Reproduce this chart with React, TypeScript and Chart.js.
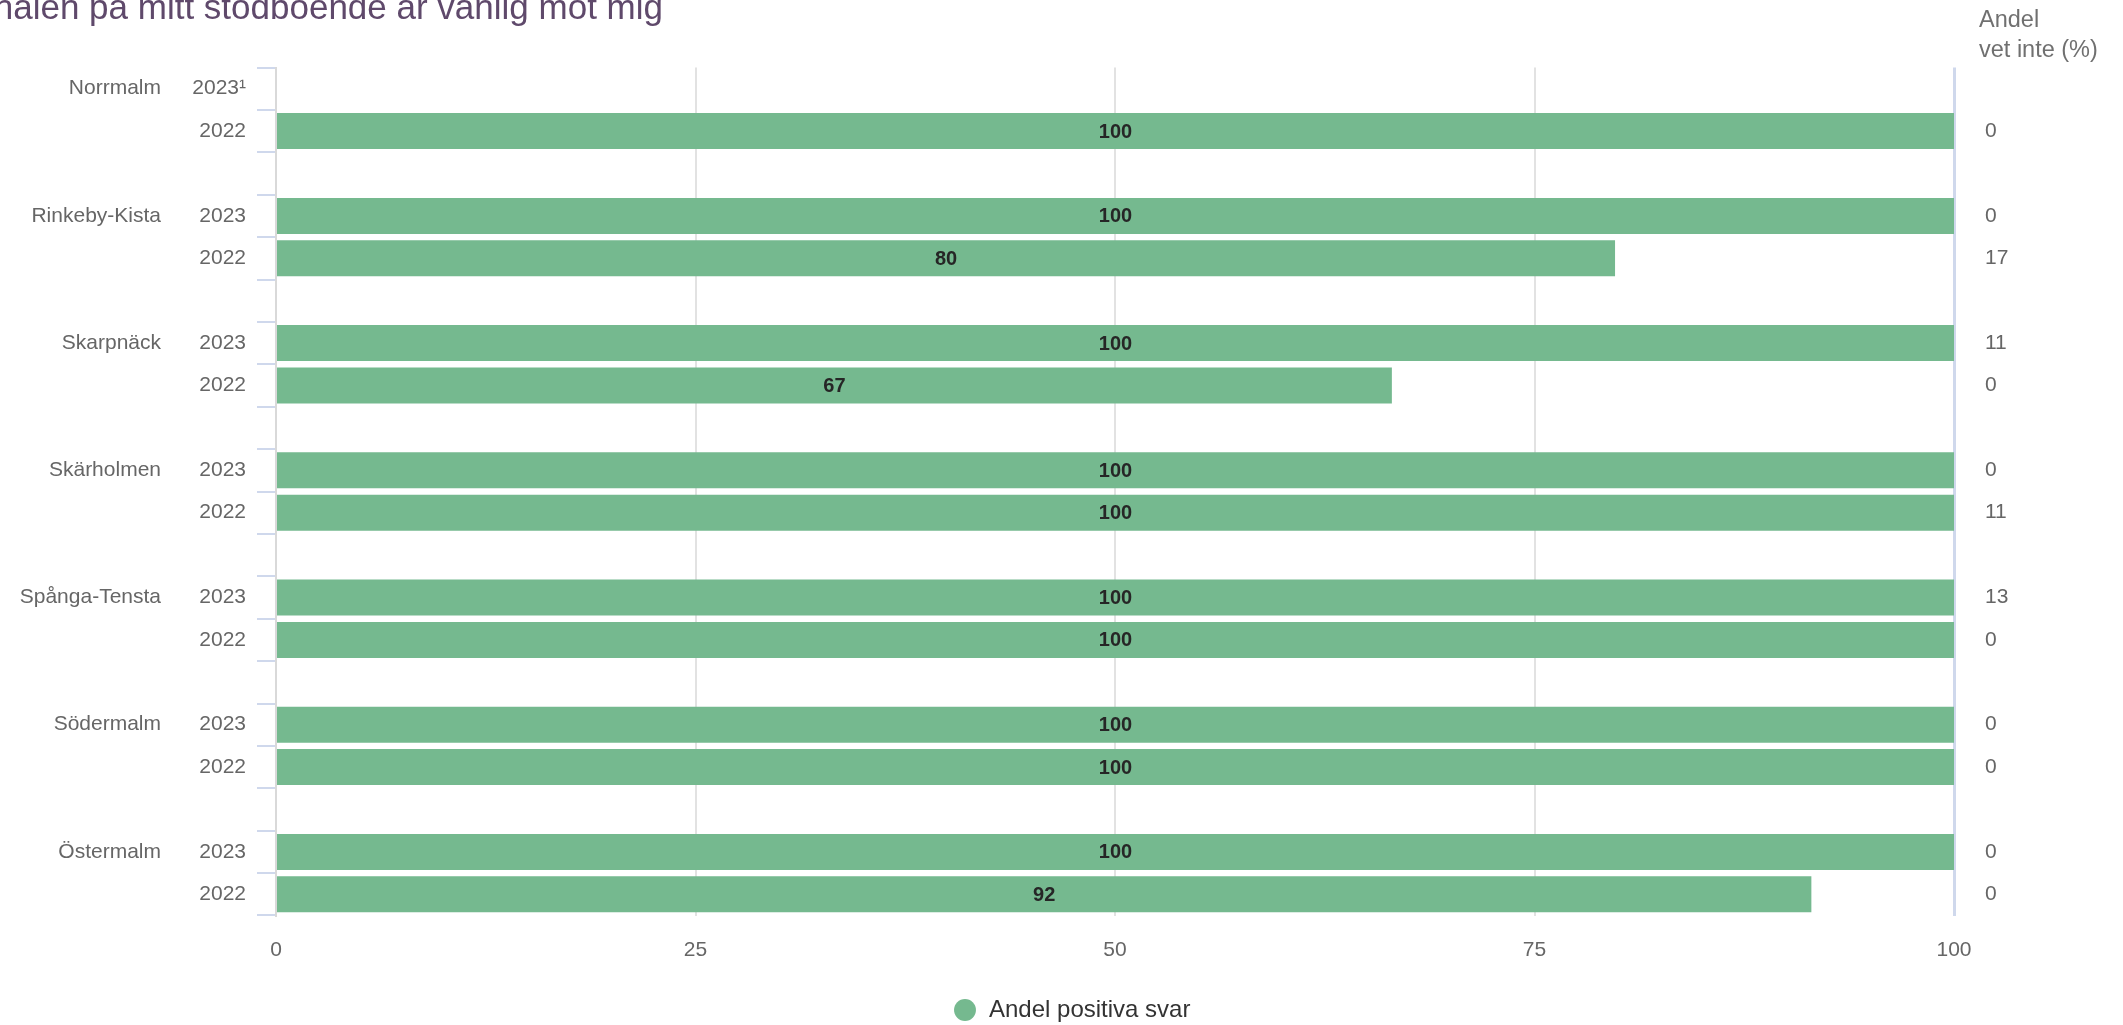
import React, { useEffect, useRef } from 'react';
import { Chart, registerables } from 'chart.js';

Chart.register(...registerables);

// ---- data ----
const districts = ['Norrmalm', 'Rinkeby-Kista', 'Skarpnäck', 'Skärholmen', 'Spånga-Tensta', 'Södermalm', 'Östermalm'];
const yearLabels2023 = ['2023¹', '2023', '2023', '2023', '2023', '2023', '2023'];
const yearLabels2022 = ['2022', '2022', '2022', '2022', '2022', '2022', '2022'];
const positive2023: (number | null)[] = [null, 100, 100, 100, 100, 100, 100];
const positive2022: (number | null)[] = [100, 79.8, 66.5, 100, 100, 100, 91.5];
const vetInte2023: (number | null)[] = [null, 0, 11, 0, 13, 0, 0];
const vetInte2022: (number | null)[] = [0, 17, 0, 11, 0, 0, 0];
const xTickValues = [0, 25, 50, 75, 100];
const titleText = 'Personalen på mitt stödboende är vänlig mot mig';
const legendLabel = 'Andel positiva svar';
const rightHeader = ['Andel', 'vet inte (%)'];

const FONT = 'Arial, "Liberation Sans", Helvetica, sans-serif';
const GREEN = '#75b98f';

// build row structure (2023, 2022, gap)
const rowLabels: string[] = [];
const rowValues: (number | null)[] = [];
const rowVet: (number | null)[] = [];
const districtRows: { name: string; index: number }[] = [];
districts.forEach((d, i) => {
  districtRows.push({ name: d, index: rowLabels.length });
  rowLabels.push(yearLabels2023[i]);
  rowValues.push(positive2023[i]);
  rowVet.push(vetInte2023[i]);
  rowLabels.push(yearLabels2022[i]);
  rowValues.push(positive2022[i]);
  rowVet.push(vetInte2022[i]);
  if (i < districts.length - 1) {
    rowLabels.push('');
    rowValues.push(null);
    rowVet.push(null);
  }
});

const decorPlugin = {
  id: 'decor',
  beforeDraw(chart: any) {
    const lg = chart.legend;
    if (lg) {
      const h = lg.bottom - lg.top;
      lg.left = 943;
      lg.top = 988;
      lg.bottom = 988 + h;
    }
  },
  afterDatasetsDraw(chart: any) {
    const ctx = chart.ctx;
    const meta = chart.getDatasetMeta(0);
    ctx.save();
    ctx.font = `bold 20px ${FONT}`;
    ctx.fillStyle = '#262626';
    ctx.textAlign = 'center';
    ctx.textBaseline = 'middle';
    meta.data.forEach((bar: any, i: number) => {
      const v = rowValues[i];
      if (v === null || v === undefined) return;
      const p = bar.getProps(['x', 'y', 'base'], true);
      ctx.fillText(String(Math.round(v)), (p.x + p.base) / 2, p.y + 1);
    });
    ctx.restore();
  },
  afterDraw(chart: any) {
    const ctx = chart.ctx;
    const yScale = chart.scales.y;
    ctx.save();
    // title (cut off at the left/top like the reference)
    ctx.font = `35px ${FONT}`;
    ctx.fillStyle = '#5f496b';
    ctx.textAlign = 'right';
    ctx.textBaseline = 'alphabetic';
    ctx.fillText(titleText, 663, 18.5);

    // district names
    ctx.font = `21px ${FONT}`;
    ctx.fillStyle = '#666666';
    ctx.textAlign = 'right';
    ctx.textBaseline = 'middle';
    districtRows.forEach((d) => {
      ctx.fillText(d.name, 161, yScale.getPixelForValue(d.index));
    });

    // right column values
    ctx.textAlign = 'left';
    rowVet.forEach((v, i) => {
      if (v === null || v === undefined) return;
      ctx.fillText(String(v), 1985, yScale.getPixelForValue(i));
    });

    // right header
    ctx.font = `23.5px ${FONT}`;
    ctx.fillStyle = '#707070';
    ctx.textBaseline = 'alphabetic';
    ctx.fillText(rightHeader[0], 1979, 27);
    ctx.fillText(rightHeader[1], 1979, 57);
    ctx.restore();
  },
};

export default function App() {
  const ref = useRef<HTMLCanvasElement | null>(null);
  useEffect(() => {
    if (!ref.current) return;
    const chart = new Chart(ref.current, {
      type: 'bar',
      data: {
        labels: rowLabels,
        datasets: [
          {
            label: legendLabel,
            data: rowValues as any,
            backgroundColor: GREEN,
            borderWidth: 0,
            barPercentage: 0.85,
            categoryPercentage: 1.0,
          },
        ],
      },
      options: {
        indexAxis: 'y',
        animation: false,
        responsive: false,
        devicePixelRatio: 1,
        layout: { padding: { top: 67.5, right: 169, bottom: 0, left: 0 } },
        plugins: {
          title: { display: false },
          tooltip: { enabled: false },
          legend: {
            display: true,
            position: 'bottom',
            align: 'start',
            labels: {
              usePointStyle: true,
              pointStyle: 'circle',
              boxWidth: 28,
              boxHeight: 15.5,
              padding: 10,
              color: '#333333',
              font: { size: 24, family: FONT },
            },
          },
        },
        scales: {
          x: {
            type: 'linear',
            min: 0,
            max: 100,
            afterBuildTicks: (s: any) => {
              s.ticks = xTickValues.map((v) => ({ value: v }));
            },
            afterFit: (s: any) => {
              s.height = 65.5;
            },
            ticks: {
              color: '#666666',
              padding: 22,
              font: { size: 21, family: FONT },
            },
            grid: {
              drawTicks: false,
              color: (c: any) => {
                const v = c.tick ? c.tick.value : null;
                if (v === 100) return '#cfd8ec';
                if (v === 0) return '#d9d9d9';
                return '#e2e2e2';
              },
              lineWidth: (c: any) => {
                const v = c.tick ? c.tick.value : null;
                return v === 100 ? 3 : 2;
              },
            },
            border: { display: false },
          },
          y: {
            type: 'category',
            afterFit: (s: any) => {
              s.width = 276;
            },
            ticks: {
              color: '#666666',
              padding: 11,
              autoSkip: false,
              font: { size: 21, family: FONT },
            },
            grid: {
              offset: true,
              drawOnChartArea: false,
              drawTicks: true,
              tickLength: 19,
              color: '#cfd8ec',
              lineWidth: 2,
            },
            border: { display: true, color: '#d9d9d9', width: 2 },
          },
        },
      } as any,
      plugins: [decorPlugin],
    });
    return () => chart.destroy();
  }, []);

  return (
    <div style={{ position: 'absolute', left: 0, top: 0, width: 2123, height: 1025 }}>
      <canvas ref={ref} width={2123} height={1025} style={{ display: 'block' }} />
    </div>
  );
}
